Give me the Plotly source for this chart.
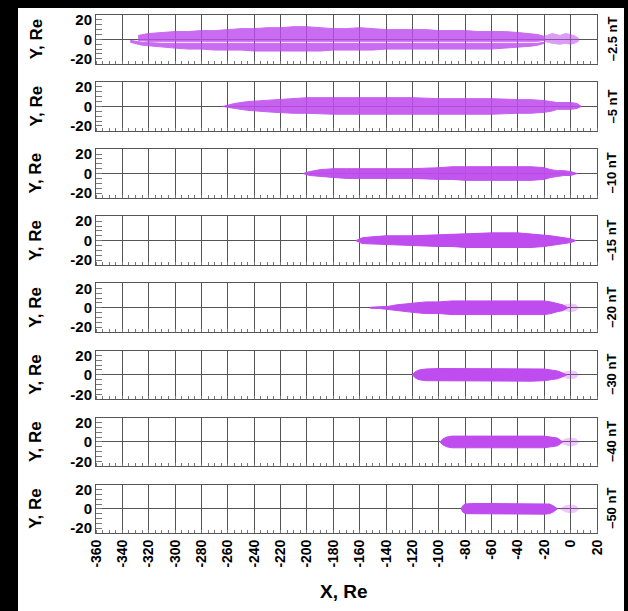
import plotly.graph_objects as go

# ---------------- data ----------------
X_TICKS = list(range(-360, 21, 20))
X_TICK_TEXT = [str(v) for v in X_TICKS]
Y_TICKS = [-20, 0, 20]
Y_TICK_TEXT = ["-20", "0", "20"]
FIELD_LABELS = ["–2.5 nT", "–5 nT", "–10 nT", "–15 nT", "–20 nT", "–30 nT", "–40 nT", "–50 nT"]

# panel 1 (-2.5 nT): two bands separated by a thin gap
P1_UP_X = [-328, -320, -310, -300, -290, -280, -270, -260, -250, -240, -230, -220, -210, -200, -190, -180,
           -170, -160, -150, -140, -130, -120, -110, -100, -90, -80, -70, -60, -50, -40, -30, -25, -20]
P1_UP_TOP = [4, 6, 7, 8, 8, 9, 9, 10, 11, 11, 12, 12, 13, 13, 12, 11,
             11, 12, 11, 10, 10, 10, 10, 9, 9, 9, 8, 8, 8, 7, 6, 5, 3]
P1_UP_BOT = [-1, -2, -2, -2, -2, -2, -2, -2, -2, -2, -2, -2, -2, -2, -2, -2,
             -2, -2, -2, -2, -2, -2, -2, -2, -2, -2, -2, -2, -2, -2, -2, -2, -1]
P1_LO_X = [-334, -325, -310, -300, -290, -280, -270, -260, -250, -240, -230, -220, -210, -200, -190, -180,
           -170, -160, -150, -140, -130, -120, -110, -100, -90, -80, -70, -60, -50, -40, -30, -25, -20]
P1_LO_TOP = [-1, -3, -4, -4, -4, -4, -4, -4, -4, -4, -4, -4, -4, -4, -4, -4,
             -4, -4, -4, -4, -4, -4, -4, -4, -4, -4, -4, -4, -4, -4, -4, -4, -3]
P1_LO_BOT = [-3, -6, -8, -9, -10, -10, -11, -11, -11, -12, -12, -12, -12, -12, -12, -11,
             -11, -11, -11, -10, -10, -10, -10, -10, -10, -10, -10, -10, -9, -8, -7, -6, -4]
P1_TAIL_X = [-20, -14, -8, -4, 0, 4, 6, 6, 3, 0, -4, -8, -14, -20]
P1_TAIL_Y = [3, 6, 4, 6, 5, 3, 1, -2, -4, -5, -4, -5, -4, -2]

# panel 2 (-5 nT)
P2_X = [-264, -255, -245, -235, -225, -210, -200, -180, -160, -140, -120, -100, -80, -60, -40, -30, -20,
        -15, -10, -5, 0, 5, 8]
P2_TOP = [0, 3, 5, 6, 7, 8, 9, 9, 9, 9, 9, 8, 8, 8, 7, 7, 6, 5, 4, 4, 4, 3, 0]
P2_BOT = [0, -2, -4, -5, -6, -7, -7, -8, -8, -8, -8, -8, -8, -8, -7, -7, -6, -5, -3, -3, -3, -2, 0]

# panel 3 (-10 nT)
P3_X = [-203, -198, -190, -180, -170, -160, -140, -120, -100, -90, -80, -60, -40, -30, -20, -15, -10, -5, 0, 5]
P3_TOP = [0, 2, 4, 5, 5, 5, 5, 5, 6, 7, 7, 7, 7, 7, 6, 4, 3, 3, 2, 0]
P3_BOT = [0, -2, -3, -4, -5, -5, -5, -5, -6, -6, -7, -7, -7, -7, -6, -4, -3, -2, -2, 0]

# panel 4 (-15 nT)
P4_X = [-163, -158, -150, -140, -120, -100, -90, -80, -60, -40, -30, -20, -15, -10, -5, 0, 4]
P4_TOP = [0, 3, 4, 5, 5, 6, 7, 7, 8, 8, 7, 6, 5, 4, 3, 2, 0]
P4_BOT = [0, -3, -4, -4, -5, -6, -6, -7, -7, -7, -7, -6, -5, -4, -3, -2, 0]

# panel 5 (-20 nT)
P5_X = [-152, -145, -138, -132, -125, -118, -110, -100, -90, -80, -60, -40, -30, -20, -15, -10, -6, -2]
P5_TOP = [0.5, 0.8, 1.5, 3, 4, 5, 6, 6, 7, 7, 7, 7, 7, 7, 6, 4, 3, 0]
P5_BOT = [-0.5, -0.8, -1.5, -3, -4, -5, -6, -6, -7, -7, -7, -7, -7, -7, -6, -4, -3, 0]

# panel 6 (-30 nT)
P6_X = [-120, -118, -115, -110, -100, -80, -60, -40, -30, -20, -15, -10, -6, -3]
P6_TOP = [0, 3, 5, 6, 6.5, 6.5, 6.5, 6.5, 6.5, 6, 5, 4, 2, 0]
P6_BOT = [0, -3, -5, -6, -6.5, -6.5, -6.5, -6.5, -6.5, -6, -5, -4, -2, 0]

# panel 7 (-40 nT)
P7_X = [-99, -97, -94, -90, -80, -60, -40, -30, -20, -15, -10, -6]
P7_TOP = [0, 3, 5, 6, 6, 6, 6, 6, 6, 5, 4, 0]
P7_BOT = [0, -3, -5, -6, -6, -6, -6, -6, -6, -5, -4, 0]

# panel 8 (-50 nT)
P8_X = [-83, -82, -80, -75, -60, -40, -30, -20, -16, -13, -10]
P8_TOP = [0, 3, 5, 5.5, 5.5, 5.5, 5.5, 5.5, 5, 3, 0]
P8_BOT = [0, -3, -5, -5.5, -5.5, -5.5, -5.5, -5.5, -5, -3, 0]

# faint scattered marks near the Earth (x ~ 0) for the lower panels
TAIL_X = [-8, -4, 0, 4, 6, 4, 0, -4, -8]
TAIL_Y = [0, 3, 4, 3, 0, -3, -4, -3, 0]

PURPLE = "#bf4cee"

bands = [
    [(P1_UP_X, P1_UP_TOP, P1_UP_BOT, 0.82), (P1_LO_X, P1_LO_TOP, P1_LO_BOT, 0.82)],
    [(P2_X, P2_TOP, P2_BOT, 0.88)],
    [(P3_X, P3_TOP, P3_BOT, 0.95)],
    [(P4_X, P4_TOP, P4_BOT, 1.0)],
    [(P5_X, P5_TOP, P5_BOT, 1.0)],
    [(P6_X, P6_TOP, P6_BOT, 1.0)],
    [(P7_X, P7_TOP, P7_BOT, 1.0)],
    [(P8_X, P8_TOP, P8_BOT, 1.0)],
]

# ---------------- geometry ----------------
W, H = 628, 611
ML, MR, MT, MB = 96, 31, 15, 78
PW = W - ML - MR
PH = H - MT - MB
PANEL_H = 48.7
PITCH = 67.1
FONT = "Liberation Sans, Arial, sans-serif"

fig = go.Figure()
layout = dict(
    width=W, height=H,
    margin=dict(l=ML, r=MR, t=MT, b=MB, pad=0),
    paper_bgcolor="white", plot_bgcolor="white",
    showlegend=False,
    font=dict(family=FONT, size=14, color="black"),
)

annotations = []
for i in range(8):
    top_px = MT + i * PITCH
    bot_px = top_px + PANEL_H
    y1 = min(1.0, (H - MB - top_px) / PH)
    y0 = max(0.0, (H - MB - bot_px) / PH)
    sfx = "" if i == 0 else str(i + 1)
    xref, yref = "x" + sfx, "y" + sfx
    for bx, btop, bbot, op in bands[i]:
        fig.add_trace(go.Scatter(
            x=list(bx) + list(bx)[::-1], y=list(btop) + list(bbot)[::-1],
            fill="toself", fillcolor=PURPLE, opacity=op,
            line=dict(color=PURPLE, width=1), mode="lines",
            hoverinfo="skip", xaxis=xref, yaxis=yref))
    if i == 0:
        fig.add_trace(go.Scatter(x=P1_TAIL_X, y=P1_TAIL_Y, fill="toself", fillcolor=PURPLE,
                                 opacity=0.55, line=dict(color=PURPLE, width=1), mode="lines",
                                 hoverinfo="skip", xaxis=xref, yaxis=yref))
    elif i >= 4:
        fig.add_trace(go.Scatter(x=TAIL_X, y=TAIL_Y, fill="toself", fillcolor=PURPLE,
                                 opacity=0.3, line=dict(color=PURPLE, width=1), mode="lines",
                                 hoverinfo="skip", xaxis=xref, yaxis=yref))

    layout["xaxis" + sfx] = dict(
        domain=[0, 1], anchor=yref, range=[-360, 20],
        tickmode="array", tickvals=X_TICKS, ticktext=X_TICK_TEXT,
        showticklabels=(i == 7), tickangle=-90,
        tickfont=dict(family=FONT, size=14, weight="bold", color="black"),
        showgrid=True, gridcolor="#555555", gridwidth=1,
        zeroline=False,
        showline=True, mirror=True, linecolor="#555555", linewidth=1,
        ticks="",
        minor=dict(tickmode="linear", tick0=-360, dtick=5, ticks="inside", ticklen=3,
                   tickcolor="#777777", showgrid=False),
        fixedrange=True,
        **({} if i == 0 else {"matches": "x"}),
    )
    layout["yaxis" + sfx] = dict(
        domain=[y0, y1], anchor=xref, range=[-25, 25],
        tickmode="array", tickvals=Y_TICKS, ticktext=Y_TICK_TEXT,
        tickfont=dict(family=FONT, size=15, weight="bold", color="black"),
        showgrid=False,
        zeroline=True, zerolinecolor="#555555", zerolinewidth=1,
        showline=True, mirror=True, linecolor="#555555", linewidth=1,
        ticks="inside", ticklen=6, tickcolor="#777777",
        minor=dict(tickmode="linear", tick0=0, dtick=5, ticks="inside", ticklen=6,
                   tickcolor="#777777", showgrid=False),
        fixedrange=True,
    )
    yc = (y0 + y1) / 2
    annotations.append(dict(text="Y, Re", xref="paper", yref="paper", x=(36 - ML) / PW, y=yc,
                            textangle=-90, showarrow=False, xanchor="center", yanchor="middle",
                            font=dict(family=FONT, size=17, weight="bold", color="black")))
    annotations.append(dict(text=FIELD_LABELS[i], xref="paper", yref="paper", x=(612 - ML) / PW, y=yc,
                            textangle=-90, showarrow=False, xanchor="center", yanchor="middle",
                            font=dict(family=FONT, size=13, weight="bold", color="black")))

annotations.append(dict(text="X, Re", xref="paper", yref="paper", x=(344 - ML) / PW,
                        y=(H - MB - 592) / PH, showarrow=False, xanchor="center", yanchor="middle",
                        font=dict(family=FONT, size=19, weight="bold", color="black")))
layout["annotations"] = annotations

# black border strips of the scanned picture
def px_x(p):
    return (p - ML) / PW

def px_y(p):
    return (H - MB - p) / PH

layout["shapes"] = [
    dict(type="rect", xref="paper", yref="paper", x0=px_x(-5), x1=px_x(18), y0=px_y(H + 5), y1=px_y(-5),
         fillcolor="black", line=dict(width=0), layer="above"),
    dict(type="rect", xref="paper", yref="paper", x0=px_x(-5), x1=px_x(W + 5), y0=px_y(8), y1=px_y(-5),
         fillcolor="black", line=dict(width=0), layer="above"),
    dict(type="rect", xref="paper", yref="paper", x0=px_x(624), x1=px_x(W + 5), y0=px_y(H + 5), y1=px_y(-5),
         fillcolor="black", line=dict(width=0), layer="above"),
]

fig.update_layout(**layout)
fig.write_html(
    "out.html",
    config={"displayModeBar": False},
    post_script="document.body.style.margin='0';document.body.style.overflow='hidden';",
)
